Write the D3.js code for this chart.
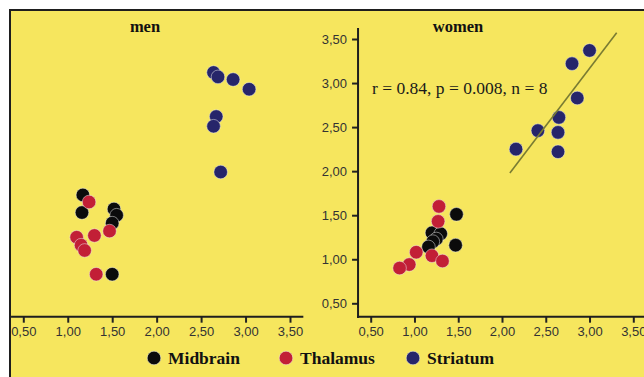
<!DOCTYPE html>
<html>
<head>
<meta charset="utf-8">
<script src="https://cdn.jsdelivr.net/npm/d3@7"></script>
<style>
	body { margin: 0; background: #fff; }
	svg { display: block; }
	.tick text { font-family: "Liberation Sans", Arial, sans-serif; font-size: 13px; fill: #333; }
	.tick line { stroke: #222; stroke-width: 2; }
</style>
</head>
<body>
<div id="chart"></div>
<script>
// tick values and labels (comma decimals as in the original)
var tickValues = [0.5, 1.0, 1.5, 2.0, 2.5, 3.0, 3.5];
var tickLabels = ["0,50", "1,00", "1,50", "2,00", "2,50", "3,00", "3,50"];
var series = ["Midbrain", "Thalamus", "Striatum"];
var colors = ["#0b0b0b", "#c21f36", "#26256a"];

// men: [x, y]
var menMidbrain = [[1.17, 1.73], [1.16, 1.53], [1.52, 1.57], [1.55, 1.50], [1.50, 1.41], [1.50, 0.83]];
var menThalamus = [[1.24, 1.65], [1.10, 1.25], [1.30, 1.27], [1.47, 1.32], [1.15, 1.16], [1.19, 1.10], [1.32, 0.83]];
var menStriatum = [[2.64, 3.12], [2.69, 3.07], [2.86, 3.04], [3.04, 2.93], [2.67, 2.62], [2.64, 2.51], [2.72, 1.99]];

// women: [x, y]
var womenMidbrain = [[1.48, 1.51], [1.47, 1.16], [1.20, 1.30], [1.30, 1.29], [1.25, 1.23], [1.21, 1.20], [1.16, 1.14]];
var womenThalamus = [[1.28, 1.60], [1.27, 1.43], [1.02, 1.08], [1.20, 1.04], [1.32, 0.98], [0.94, 0.94], [0.83, 0.90]];
var womenStriatum = [[3.00, 3.37], [2.80, 3.22], [2.86, 2.83], [2.65, 2.61], [2.64, 2.44], [2.41, 2.46], [2.64, 2.22], [2.16, 2.25]];

// women striatum regression line end points
var womenFit = [[2.09, 1.98], [3.31, 3.57]];
var womenStats = "r = 0.84, p = 0.008, n = 8";

var width = 644, height = 377;

var svg = d3.select("#chart").append("svg")
	.attr("width", width)
	.attr("height", height);

svg.append("rect")
	.attr("x", 9).attr("y", 9)
	.attr("width", width - 9).attr("height", height - 9)
	.attr("fill", "#f6e65e");

// frame, left and top
svg.append("path")
	.attr("d", "M10," + height + "V10H" + width)
	.attr("fill", "none")
	.attr("stroke", "#1e1e1e")
	.attr("stroke-width", 2);

var y = d3.scaleLinear().domain([0.5, 3.5]).range([303.3, 39]);

var panels = [
	{ title: "men", cx: 145, x: d3.scaleLinear().domain([0.5, 3.5]).range([23.3, 290]),
	  xExtent: [0.362, 3.65], yAxis: false,
	  data: [menMidbrain, menThalamus, menStriatum] },
	{ title: "women", cx: 458, x: d3.scaleLinear().domain([0.5, 3.5]).range([370.7, 633.3]),
	  xExtent: [0.344, 3.65], yAxis: true, yExtent: [0.345, 3.625],
	  data: [womenMidbrain, womenThalamus, womenStriatum], fit: womenFit, stats: womenStats }
];

panels.forEach(function (p) {
	var g = svg.append("g");
	var y0 = y(0.348);

	var xAxis = d3.axisBottom(p.x)
		.tickValues(tickValues)
		.tickFormat(function (d, i) { return tickLabels[i]; })
		.tickSize(6).tickPadding(4);

	var gx = g.append("g")
		.attr("transform", "translate(0," + y0 + ")")
		.call(xAxis);
	gx.select(".domain").remove();

	g.append("line")
		.attr("x1", p.x(p.xExtent[0])).attr("x2", p.x(p.xExtent[1]))
		.attr("y1", y0).attr("y2", y0)
		.attr("stroke", "#1e1e1e").attr("stroke-width", 2);

	if (p.yAxis) {
		var x0 = p.x(p.xExtent[0]) + 1;
		var gy = g.append("g")
			.attr("transform", "translate(" + x0 + ",0)")
			.call(d3.axisLeft(y)
				.tickValues(tickValues)
				.tickFormat(function (d, i) { return tickLabels[i]; })
				.tickSize(6).tickPadding(5));
		gy.select(".domain").remove();
		g.append("line")
			.attr("x1", x0).attr("x2", x0)
			.attr("y1", y(p.yExtent[0]) + 1).attr("y2", y(p.yExtent[1]))
			.attr("stroke", "#1e1e1e").attr("stroke-width", 2);
	}

	g.append("text")
		.attr("x", p.cx).attr("y", 31.5)
		.attr("text-anchor", "middle")
		.attr("font-family", "'Liberation Serif', 'Times New Roman', serif")
		.attr("font-weight", "bold")
		.attr("font-size", 16.5)
		.attr("fill", "#111")
		.text(p.title);

	if (p.stats) {
		g.append("text")
			.attr("x", 372).attr("y", 94)
			.attr("font-family", "'Liberation Serif', 'Times New Roman', serif")
			.attr("font-size", 17.5)
			.attr("fill", "#1a1a1a")
			.text(p.stats);
	}

	// points: midbrain first, striatum on top
	p.data.forEach(function (pts, si) {
		g.selectAll("circle.s" + si)
			.data(pts).enter().append("circle")
			.attr("class", "s" + si)
			.attr("cx", function (d) { return p.x(d[0]); })
			.attr("cy", function (d) { return y(d[1]); })
			.attr("r", 6.8)
			.attr("fill", colors[si])
			.attr("stroke", "rgba(235,235,235,0.5)")
			.attr("stroke-width", 1);
	});

	if (p.fit) {
		g.append("line")
			.attr("x1", p.x(p.fit[0][0])).attr("y1", y(p.fit[0][1]))
			.attr("x2", p.x(p.fit[1][0])).attr("y2", y(p.fit[1][1]))
			.attr("stroke", "#7a7c32")
			.attr("stroke-width", 1.6);
	}
});

// legend
var legendX = [154, 286, 413];
var legend = svg.selectAll("g.legend")
	.data(series).enter().append("g")
	.attr("class", "legend")
	.attr("transform", function (d, i) { return "translate(" + legendX[i] + ",358)"; });

legend.append("circle")
	.attr("r", 6.8)
	.attr("fill", function (d, i) { return colors[i]; })
	.attr("stroke", "rgba(235,235,235,0.5)")
	.attr("stroke-width", 1);

legend.append("text")
	.attr("x", 14).attr("y", 6)
	.attr("font-family", "'Liberation Serif', 'Times New Roman', serif")
	.attr("font-weight", "bold")
	.attr("font-size", 17.5)
	.attr("fill", "#111")
	.text(function (d) { return d; });
</script>
</body>
</html>
